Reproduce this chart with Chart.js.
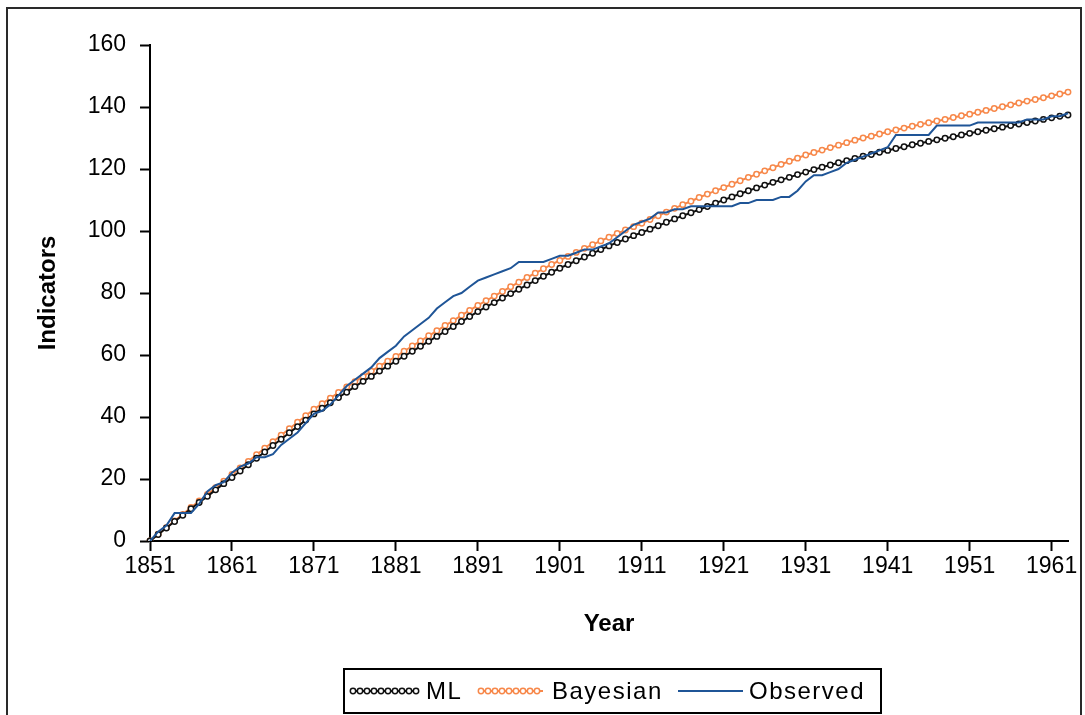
<!DOCTYPE html>
<html>
<head>
<meta charset="utf-8">
<script src="https://cdn.jsdelivr.net/npm/chart.js@4.4.1/dist/chart.umd.min.js"></script>
<style>
  html, body { margin: 0; padding: 0; background: #fff; }
  canvas { display: block; }
</style>
</head>
<body>
<canvas id="chart" width="1085" height="715"></canvas>
<script>
// Annual categories 1851–1963
const years = Array.from({ length: 113 }, (_, i) => String(1851 + i));
// Labelled ticks on the year axis
const yearTicks = ['1851','1861','1871','1881','1891','1901','1911','1921','1931','1941','1951','1961'];
const yTicks = [0, 20, 40, 60, 80, 100, 120, 140, 160];

// Maximum-likelihood fit
const mlValues = [
  0, 2.1, 4.2, 6.3, 8.3, 10.4, 12.4, 14.4, 16.5, 18.5, 20.5,
  22.6, 24.6, 26.7, 28.7, 30.8, 32.8, 34.9, 36.9, 39.0, 41.0,
  42.8, 44.6, 46.3, 48.0, 49.8, 51.5, 53.1, 54.8, 56.4, 58.0,
  59.6, 61.2, 62.8, 64.4, 66.0, 67.6, 69.2, 70.8, 72.4, 74.0,
  75.5, 76.9, 78.4, 79.8, 81.2, 82.6, 84.0, 85.4, 86.7, 88.0,
  89.2, 90.4, 91.6, 92.8, 94.0, 95.2, 96.3, 97.4, 98.5, 99.5,
  100.6, 101.7, 102.8, 103.9, 104.9, 105.9, 106.9, 107.9, 109.0, 110.0,
  111.0, 112.0, 113.0, 113.9, 114.8, 115.7, 116.5, 117.3, 118.2, 119.0,
  119.8, 120.6, 121.3, 122.0, 122.7, 123.4, 124.1, 124.7, 125.4, 126.0,
  126.6, 127.2, 127.8, 128.3, 128.9, 129.4, 129.9, 130.4, 131.0, 131.5,
  132.0, 132.5, 133.0, 133.5, 134.0, 134.5, 135.0, 135.5, 136.0, 136.5,
  137.0, 137.4
];

// Bayesian fit
const bayesValues = [
  0, 2.2, 4.3, 6.5, 8.6, 10.8, 12.9, 15.0, 17.2, 19.3, 21.5,
  23.6, 25.7, 27.8, 29.9, 32.0, 34.1, 36.2, 38.3, 40.4, 42.5,
  44.3, 46.1, 47.9, 49.7, 51.4, 53.1, 54.8, 56.4, 58.0, 59.5,
  61.2, 62.9, 64.5, 66.2, 67.8, 69.5, 71.1, 72.8, 74.4, 76.0,
  77.5, 79.0, 80.5, 82.0, 83.5, 85.0, 86.4, 87.8, 89.2, 90.5,
  91.8, 93.1, 94.4, 95.6, 96.8, 98.0, 99.2, 100.3, 101.4, 102.5,
  103.7, 104.9, 106.1, 107.3, 108.5, 109.6, 110.8, 111.9, 113.0, 114.0,
  115.1, 116.2, 117.3, 118.3, 119.4, 120.4, 121.5, 122.5, 123.5, 124.5,
  125.3, 126.1, 126.9, 127.7, 128.5, 129.3, 130.0, 130.6, 131.3, 132.0,
  132.6, 133.2, 133.8, 134.4, 134.9, 135.5, 136.0, 136.6, 137.2, 137.7,
  138.3, 138.9, 139.5, 140.1, 140.7, 141.3, 141.9, 142.4, 143.0, 143.6,
  144.2, 144.8
];

// Observed cumulative count
const observedValues = [
  0, 3, 5, 9, 9, 9, 12, 16, 18, 19,
  22, 24, 25, 27, 27, 28, 31, 33, 35, 38,
  41, 42, 44, 47, 50, 52, 54, 56, 59, 61,
  63, 66, 68, 70, 72, 75, 77, 79, 80, 82,
  84, 85, 86, 87, 88, 90, 90, 90, 90, 91,
  92, 92, 93, 94, 94, 95, 96, 98, 100, 102,
  103, 104, 106, 106, 107, 107, 108, 108, 108, 108,
  108, 108, 109, 109, 110, 110, 110, 111, 111, 113,
  116, 118, 118, 119, 120, 122, 123, 124, 125, 126,
  127, 131, 131, 131, 131, 131, 134, 134, 134, 134,
  134, 135, 135, 135, 135, 135, 135, 136, 136, 136,
  137, 137, 138
];

const FONT = "'Liberation Sans', Arial, sans-serif";
const ML_COLOR = '#111111';
const BAYES_COLOR = '#F7884A';
const OBS_COLOR = '#1F5597';

// Outer frame drawn beneath the chart
const framePlugin = {
  id: 'frame',
  beforeDraw(chart) {
    const ctx = chart.ctx;
    ctx.save();
    ctx.fillStyle = '#ffffff';
    ctx.fillRect(0, 0, chart.width, chart.height);
    ctx.strokeStyle = '#2a2a2a';
    ctx.lineWidth = 2;
    ctx.beginPath();
    ctx.moveTo(7, chart.height + 5);
    ctx.lineTo(7, 8);
    ctx.lineTo(1081, 8);
    ctx.lineTo(1081, chart.height + 5);
    ctx.stroke();
    ctx.restore();
  }
};

// Boxed legend under the axis title
const legendPlugin = {
  id: 'boxedLegend',
  afterDraw(chart) {
    const ctx = chart.ctx;
    const box = { x: 344, y: 669, w: 537, h: 44 };
    const items = [
      { ds: 0, x0: 350, x1: 418, tx: 426 },
      { ds: 1, x0: 478, x1: 543, tx: 552 },
      { ds: 2, x0: 678, x1: 743, tx: 749 }
    ];
    const cy = box.y + box.h / 2;
    ctx.save();
    ctx.strokeStyle = '#000';
    ctx.lineWidth = 2;
    ctx.strokeRect(box.x, box.y, box.w, box.h);
    ctx.font = '24px ' + FONT;
    ctx.textBaseline = 'middle';
    ctx.textAlign = 'left';
    if ('letterSpacing' in ctx) ctx.letterSpacing = '1.5px';
    items.forEach(it => {
      const ds = chart.data.datasets[it.ds];
      ctx.strokeStyle = ds.borderColor;
      ctx.lineWidth = ds.borderWidth;
      ctx.beginPath();
      ctx.moveTo(it.x0, cy);
      ctx.lineTo(it.x1, cy);
      ctx.stroke();
      if (ds.pointRadius > 0) {
        ctx.lineWidth = ds.pointBorderWidth;
        for (let x = it.x0 + 3; x <= it.x1 - 2; x += 7) {
          ctx.beginPath();
          ctx.arc(x, cy, ds.pointRadius, 0, Math.PI * 2);
          ctx.fillStyle = '#fff';
          ctx.fill();
          ctx.stroke();
        }
      }
      ctx.fillStyle = '#000';
      ctx.fillText(ds.label, it.tx, cy + 1);
    });
    ctx.restore();
  }
};

new Chart(document.getElementById('chart'), {
  type: 'line',
  data: {
    labels: years,
    datasets: [
      {
        label: 'ML',
        data: mlValues,
        borderColor: ML_COLOR,
        borderWidth: 2,
        pointStyle: 'circle',
        pointRadius: 2.7,
        pointBorderWidth: 1.5,
        pointBackgroundColor: '#fff',
        pointBorderColor: ML_COLOR,
        tension: 0,
        order: 1
      },
      {
        label: 'Bayesian',
        data: bayesValues,
        borderColor: BAYES_COLOR,
        borderWidth: 2,
        pointStyle: 'circle',
        pointRadius: 2.7,
        pointBorderWidth: 1.5,
        pointBackgroundColor: '#fff',
        pointBorderColor: BAYES_COLOR,
        tension: 0,
        order: 2
      },
      {
        label: 'Observed',
        data: observedValues,
        borderColor: OBS_COLOR,
        borderWidth: 2,
        pointRadius: 0,
        pointBorderWidth: 0,
        tension: 0,
        order: 0
      }
    ]
  },
  options: {
    responsive: false,
    animation: false,
    devicePixelRatio: 1,
    layout: { padding: { left: 34, top: 45, right: 17, bottom: 76 } },
    plugins: {
      legend: { display: false },
      tooltip: { enabled: false }
    },
    scales: {
      x: {
        type: 'category',
        offset: false,
        grid: {
          display: true,
          drawOnChartArea: false,
          drawTicks: true,
          tickLength: 10,
          tickWidth: 2,
          tickColor: '#000'
        },
        border: { display: true, color: '#000', width: 2 },
        ticks: {
          autoSkip: false,
          maxRotation: 0,
          minRotation: 0,
          padding: 2,
          color: '#000',
          font: { family: FONT, size: 23 },
          callback(value) {
            const lab = this.getLabelForValue(value);
            return yearTicks.includes(lab) ? lab : null;
          }
        },
        title: {
          display: true,
          text: 'Year',
          color: '#000',
          font: { family: FONT, size: 24, weight: 'bold' },
          padding: { top: 0, bottom: 0 }
        },
        afterFit(scale) { scale.height = 98; }
      },
      y: {
        min: 0,
        max: 160,
        grid: {
          display: true,
          drawOnChartArea: false,
          drawTicks: true,
          tickLength: 10,
          tickWidth: 2,
          tickColor: '#000'
        },
        border: { display: true, color: '#000', width: 2 },
        afterBuildTicks(scale) {
          scale.ticks = yTicks.map(v => ({ value: v }));
        },
        ticks: {
          padding: 14,
          color: '#000',
          font: { family: FONT, size: 23 }
        },
        title: {
          display: true,
          text: 'Indicators',
          color: '#000',
          font: { family: FONT, size: 24, weight: 'bold' },
          padding: { top: 0, bottom: 0 }
        },
        afterFit(scale) { scale.width = 116; }
      }
    }
  },
  plugins: [framePlugin, legendPlugin]
});
</script>
</body>
</html>
